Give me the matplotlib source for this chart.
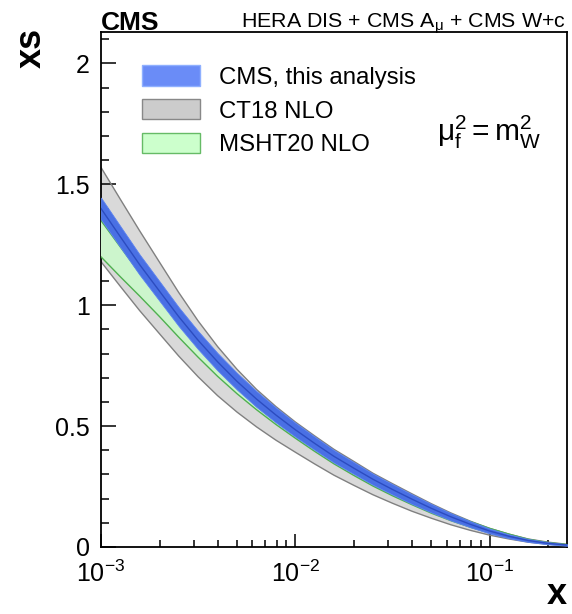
import numpy as np
import matplotlib
matplotlib.use("Agg")
import matplotlib.pyplot as plt
from matplotlib.patches import Patch
from matplotlib.ticker import MultipleLocator, FuncFormatter, LogLocator, NullFormatter

plt.rcParams['font.family'] = 'Liberation Sans'
plt.rcParams['mathtext.fontset'] = 'custom'
plt.rcParams['mathtext.rm'] = 'Liberation Sans'
plt.rcParams['mathtext.it'] = 'Liberation Sans:italic'
plt.rcParams['mathtext.bf'] = 'Liberation Sans:bold'

# x grid (0.1 decade steps)
x = [1.0e-3, 1.26e-3, 1.58e-3, 2.0e-3, 2.51e-3, 3.16e-3, 3.98e-3, 5.01e-3, 6.31e-3, 7.94e-3,
     1.0e-2, 1.26e-2, 1.58e-2, 2.0e-2, 2.51e-2, 3.16e-2, 3.98e-2, 5.01e-2, 6.31e-2, 7.94e-2,
     0.1, 0.126, 0.158, 0.2, 0.251]

# CMS, this analysis
cms_central = [1.40, 1.282, 1.168, 1.058, 0.953, 0.855, 0.766, 0.685, 0.612, 0.546,
               0.485, 0.428, 0.375, 0.326, 0.28, 0.238, 0.198, 0.16, 0.125, 0.094,
               0.066, 0.044, 0.027, 0.015, 0.008]
cms_hi = [1.445, 1.326, 1.210, 1.099, 0.992, 0.893, 0.802, 0.720, 0.645, 0.577,
          0.514, 0.456, 0.401, 0.351, 0.303, 0.260, 0.218, 0.178, 0.140, 0.107,
          0.076, 0.052, 0.033, 0.020, 0.011]
cms_lo = [1.355, 1.239, 1.126, 1.018, 0.914, 0.818, 0.730, 0.651, 0.579, 0.515,
          0.456, 0.401, 0.349, 0.302, 0.257, 0.217, 0.178, 0.143, 0.110, 0.082,
          0.056, 0.036, 0.021, 0.011, 0.005]

# CT18 NLO
ct18_hi = [1.57, 1.437, 1.308, 1.178, 1.053, 0.935, 0.829, 0.735, 0.652, 0.581,
           0.517, 0.459, 0.404, 0.354, 0.305, 0.262, 0.220, 0.179, 0.141, 0.107,
           0.077, 0.053, 0.033, 0.020, 0.011]
ct18_lo = [1.18, 1.077, 0.978, 0.882, 0.79, 0.704, 0.626, 0.558, 0.497, 0.442,
           0.392, 0.343, 0.297, 0.255, 0.216, 0.181, 0.148, 0.119, 0.092, 0.069,
           0.049, 0.033, 0.020, 0.011, 0.006]

# MSHT20 NLO
msht_hi = [1.35, 1.24, 1.133, 1.031, 0.933, 0.839, 0.754, 0.675, 0.604, 0.54,
           0.48, 0.425, 0.373, 0.325, 0.28, 0.24, 0.204, 0.168, 0.135, 0.105,
           0.077, 0.053, 0.032, 0.018, 0.010]
msht_lo = [1.20, 1.117, 1.038, 0.953, 0.868, 0.785, 0.706, 0.634, 0.568, 0.507,
           0.45, 0.395, 0.344, 0.296, 0.252, 0.212, 0.175, 0.14, 0.109, 0.082,
           0.058, 0.039, 0.023, 0.013, 0.007]

fig = plt.figure(figsize=(5.72, 6.14), dpi=100)
ax = fig.add_axes([101/572, 1-547/614, 466/572, 515/614])

ax.fill_between(x, ct18_lo, ct18_hi, facecolor='#d9d9d9', edgecolor='none', zorder=1)
ax.plot(x, ct18_hi, color='#808080', lw=1.0, zorder=2)
ax.plot(x, ct18_lo, color='#808080', lw=1.0, zorder=2)
ax.fill_between(x, msht_lo, msht_hi, facecolor='#ccf5cc', edgecolor='none', zorder=3)
ax.plot(x, msht_hi, color='#4fb04f', lw=1.0, zorder=4)
ax.plot(x, msht_lo, color='#4fb04f', lw=1.0, zorder=4)
ax.fill_between(x, cms_lo, cms_hi, facecolor='#4a70e4', edgecolor='#5a82f0', lw=0.6, zorder=5)
ax.plot(x, cms_central, color='#2c4cc0', lw=1.0, zorder=6)

ax.set_xscale('log')
ax.set_xlim(1e-3, 0.25)
ax.set_ylim(0, 2.13)

ax.yaxis.set_major_locator(MultipleLocator(0.5))
ax.yaxis.set_minor_locator(MultipleLocator(0.1))
ax.yaxis.set_major_formatter(FuncFormatter(lambda v, p: '%g' % v))
ax.xaxis.set_minor_locator(LogLocator(base=10, subs=np.arange(2, 10)))
ax.xaxis.set_minor_formatter(NullFormatter())

ax.tick_params(axis='y', which='major', direction='in', length=11, width=1.1, labelsize=18, pad=8)
ax.tick_params(axis='y', which='minor', direction='in', length=6, width=1.1)
ax.tick_params(axis='x', which='major', direction='in', length=9.5, width=1.1, labelsize=18, pad=10)
ax.tick_params(axis='x', which='minor', direction='in', length=5, width=1.1)
for s in ax.spines.values():
    s.set_linewidth(1.3)

handles = [Patch(facecolor='#6a8cf7', edgecolor='#8fb0ff'),
           Patch(facecolor='#cccccc', edgecolor='#888888'),
           Patch(facecolor='#ccffcc', edgecolor='#66bb66')]
labels = ['CMS, this analysis', 'CT18 NLO', 'MSHT20 NLO']
ax.legend(handles, labels, loc='upper left', bbox_to_anchor=(0.088, 0.935), frameon=False,
          fontsize=17.3, handlelength=2.4, handleheight=0.92, handletextpad=0.8,
          labelspacing=0.43, borderpad=0, borderaxespad=0)

ax.text(0.721, 0.788, r'$\mathrm{\mu_f^2 = m_W^2}$', transform=ax.transAxes,
        fontsize=21.5, ha='left', va='baseline')

fig.text(101/572, 1-30/614, 'CMS', fontsize=19, fontweight='bold', ha='left', va='baseline')
fig.text(566/572, 1-28/614, r'HERA DIS + CMS A$_{\mathrm{\mu}}$ + CMS W+c', fontsize=15.4,
         ha='right', va='baseline')
fig.text(31/572, 1-28/614, 'xs', rotation=90, fontsize=26, fontweight='bold', ha='center', va='top')
fig.text(567/572, 2/614, 'x', fontsize=26, fontweight='bold', ha='right', va='bottom')

fig.savefig('out.png', dpi=100)
